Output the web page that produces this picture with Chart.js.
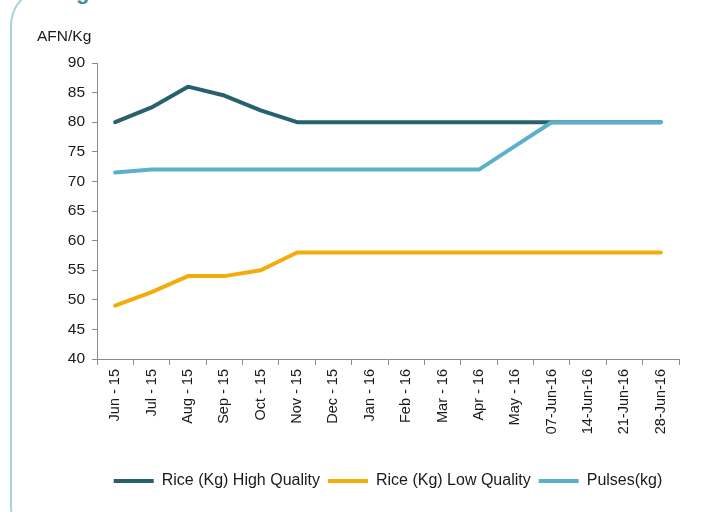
<!DOCTYPE html>
<html>
<head>
<meta charset="utf-8">
<script src="https://cdn.jsdelivr.net/npm/chart.js@4/dist/chart.umd.min.js"></script>
<style>
  html, body { margin: 0; padding: 0; background: #fff; }
  #wrap { position: relative; width: 715px; height: 512px; overflow: hidden; }
  #frame { position: absolute; left: 10px; top: -14px; width: 760px; height: 560px;
           border: 2px solid #abd2dc; border-radius: 40px; box-sizing: border-box; }
  #ttl { position: absolute; left: 76px; top: -21px; font: bold 22px "Liberation Sans", Arial, sans-serif; color: #3f9498; }
  canvas { position: absolute; left: 0; top: 0; }
</style>
</head>
<body>
<div id="wrap">
  <div id="frame"></div>
  <div id="ttl">g</div>
  <canvas id="c" width="715" height="512"></canvas>
</div>
<script>
const categories = ["Jun - 15","Jul - 15","Aug - 15","Sep - 15","Oct - 15","Nov - 15","Dec - 15","Jan - 16","Feb - 16","Mar - 16","Apr - 16","May - 16","07-Jun-16","14-Jun-16","21-Jun-16","28-Jun-16"];
const riceHigh = [80, 82.5, 86, 84.5, 82, 80, 80, 80, 80, 80, 80, 80, 80, 80, 80, 80];
const riceLow  = [49, 51.3, 54, 54, 55, 58, 58, 58, 58, 58, 58, 58, 58, 58, 58, 58];
const pulses   = [71.5, 72, 72, 72, 72, 72, 72, 72, 72, 72, 72, 76, 80, 80, 80, 80];
const seriesNames = ["Rice (Kg) High Quality", "Rice (Kg) Low Quality", "Pulses(kg)"];
const yUnit = "AFN/Kg";

const FONT = "'Liberation Sans', Arial, sans-serif";
const colors = ["#28616e", "#f3ad0b", "#5cb0cb"];

const unitLabel = {
  id: 'unitLabel',
  afterDraw(chart) {
    const ctx = chart.ctx;
    ctx.save();
    ctx.font = "15.5px " + FONT;
    ctx.fillStyle = "#1a1a1a";
    ctx.textAlign = "left";
    ctx.textBaseline = "middle";
    ctx.fillText(yUnit, 37, 37);
    ctx.restore();
  }
};

function ds(i, data, order) {
  return {
    label: seriesNames[i], data, borderColor: colors[i], backgroundColor: colors[i],
    borderWidth: 4, pointRadius: 0, pointHoverRadius: 0, tension: 0,
    borderCapStyle: 'round', borderJoinStyle: 'round', order
  };
}

new Chart(document.getElementById('c'), {
  type: 'line',
  data: {
    labels: categories,
    datasets: [ds(0, riceHigh, 2), ds(1, riceLow, 1), ds(2, pulses, 0)]
  },
  options: {
    responsive: false, animation: false,
    layout: { padding: { top: 63, right: 36, bottom: 13, left: 0 } },
    plugins: {
      tooltip: { enabled: false },
      legend: {
        position: 'bottom', fullSize: false,
        labels: {
          font: { family: FONT, size: 16 }, color: "#1a1a1a",
          boxWidth: 40, boxHeight: 4, padding: 8,
          generateLabels(chart) {
            return chart.data.datasets.map((d, i) => ({
              text: d.label, fillStyle: d.borderColor, strokeStyle: d.borderColor,
              lineWidth: 0, hidden: false, datasetIndex: i, fontColor: "#1a1a1a"
            }));
          }
        }
      }
    },
    scales: {
      x: {
        offset: true,
        grid: { drawOnChartArea: false, offset: true, tickLength: 6, color: "#8c8c8c", tickColor: "#8c8c8c" },
        border: { color: "#8c8c8c", width: 1 },
        ticks: { autoSkip: false, minRotation: 90, maxRotation: 90, font: { family: FONT, size: 14.5 }, color: "#1a1a1a", padding: 4 },
        afterFit(s) { s.height = 106; }
      },
      y: {
        min: 40, max: 90,
        grid: { drawOnChartArea: false, tickLength: 5, color: "#8c8c8c", tickColor: "#8c8c8c" },
        border: { color: "#8c8c8c", width: 1 },
        ticks: { stepSize: 5, font: { family: FONT, size: 15.5 }, color: "#1a1a1a", padding: 7 },
        afterFit(s) { s.width = 97; }
      }
    }
  },
  plugins: [unitLabel]
});
</script>
</body>
</html>
